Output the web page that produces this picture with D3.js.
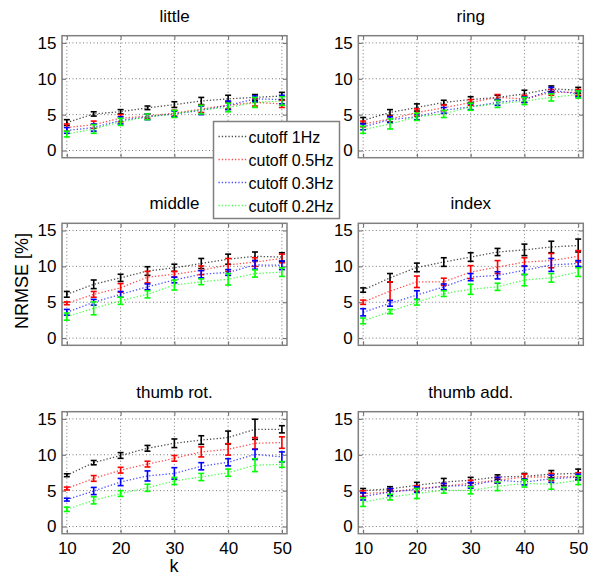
<!DOCTYPE html>
<html>
<head>
<meta charset="utf-8">
<script src="https://cdn.jsdelivr.net/npm/d3@7"></script>
<style>
  body { margin: 0; background: #fff; }
  svg { font-family: "Liberation Sans", Arial, sans-serif; }
</style>
</head>
<body>
<svg id="chart" width="595" height="576"></svg>
<script>
// data
var kValues = [10, 15, 20, 25, 30, 35, 40, 45, 50];
var cutoffLabels = ["cutoff 1Hz", "cutoff 0.5Hz", "cutoff 0.3Hz", "cutoff 0.2Hz"];
var cutoffColors = ["#000000", "#ff0000", "#0000ff", "#00ff00"];
var panelTitles = ["little", "ring", "middle", "index", "thumb rot.", "thumb add."];
var yTicks = [0, 5, 10, 15];
var xTicks = [10, 20, 30, 40, 50];

// mean NRMSE per cutoff (rows: 1Hz, 0.5Hz, 0.3Hz, 0.2Hz)
var littleMean = [
  [3.9, 5.1, 5.4, 5.95, 6.4, 6.9, 7.2, 7.4, 7.6],
  [3.2, 3.6, 4.5, 4.8, 5.2, 5.8, 6.3, 6.7, 6.5],
  [2.8, 3.2, 4.2, 4.7, 5.1, 5.6, 6.3, 7.2, 7.1],
  [2.3, 3.0, 4.0, 4.7, 5.1, 5.7, 6.0, 6.7, 6.9]
];
var littleErr = [
  [0.4, 0.3, 0.3, 0.25, 0.4, 0.5, 0.5, 0.4, 0.5],
  [0.5, 0.5, 0.5, 0.3, 0.4, 0.5, 0.5, 0.5, 0.5],
  [0.4, 0.5, 0.5, 0.4, 0.4, 0.6, 0.6, 0.4, 0.6],
  [0.4, 0.6, 0.5, 0.4, 0.5, 0.6, 0.6, 0.7, 0.6]
];
var ringMean = [
  [4.2, 5.3, 6.0, 6.7, 7.1, 7.4, 7.9, 8.6, 8.4],
  [3.7, 4.4, 5.3, 5.95, 6.7, 7.4, 7.2, 8.1, 8.1],
  [3.3, 4.3, 4.7, 5.6, 6.1, 6.7, 7.1, 8.4, 7.9],
  [2.9, 3.7, 4.7, 5.1, 6.1, 6.5, 6.9, 7.4, 7.8]
];
var ringErr = [
  [0.4, 0.4, 0.5, 0.3, 0.4, 0.3, 0.5, 0.4, 0.4],
  [0.4, 0.4, 0.5, 0.4, 0.4, 0.4, 0.5, 0.4, 0.4],
  [0.4, 0.4, 0.4, 0.4, 0.4, 0.4, 0.4, 0.4, 0.4],
  [0.5, 0.7, 0.5, 0.5, 0.5, 0.5, 0.5, 0.5, 0.5]
];
var middleMean = [
  [6.1, 7.5, 8.4, 9.35, 9.8, 10.4, 11.0, 11.4, 11.3],
  [4.85, 6.1, 7.0, 8.5, 8.9, 9.45, 10.2, 10.6, 11.1],
  [3.6, 5.0, 6.1, 7.15, 8.1, 8.9, 9.15, 10.2, 10.15],
  [3.0, 4.15, 5.2, 6.1, 7.4, 7.85, 8.2, 9.0, 9.2]
];
var middleErr = [
  [0.4, 0.6, 0.5, 0.6, 0.5, 0.7, 0.7, 0.6, 0.6],
  [0.2, 0.4, 0.6, 0.8, 0.4, 0.6, 0.9, 0.6, 0.6],
  [0.4, 0.4, 0.4, 0.4, 0.4, 0.5, 0.4, 0.6, 0.6],
  [0.5, 0.9, 0.5, 0.5, 0.7, 0.4, 0.8, 0.5, 0.6]
];
var indexMean = [
  [6.7, 8.4, 9.85, 10.6, 11.3, 12.0, 12.3, 12.7, 12.9],
  [5.0, 6.55, 7.85, 7.85, 9.2, 9.9, 10.6, 10.8, 11.4],
  [3.6, 4.85, 6.0, 7.15, 8.5, 8.75, 9.45, 10.2, 10.4],
  [2.4, 3.7, 5.0, 6.2, 6.8, 7.15, 8.1, 8.4, 9.2]
];
var indexErr = [
  [0.3, 0.6, 0.6, 0.6, 0.6, 0.5, 0.8, 0.8, 0.9],
  [0.3, 1.3, 0.8, 0.5, 0.9, 0.9, 0.6, 1.0, 0.8],
  [0.5, 0.4, 0.6, 0.4, 0.5, 0.5, 0.6, 0.9, 0.4],
  [0.4, 0.3, 0.4, 0.4, 0.7, 0.5, 0.8, 0.6, 0.6]
];
var thumbRotMean = [
  [7.15, 8.9, 9.9, 10.9, 11.6, 12.05, 12.4, 13.55, 13.55],
  [5.3, 6.7, 7.85, 8.7, 9.5, 10.4, 10.75, 11.6, 11.7],
  [3.75, 4.95, 6.2, 7.05, 7.4, 8.4, 8.95, 10.05, 9.7],
  [2.4, 3.65, 4.6, 5.4, 6.35, 6.9, 7.5, 8.55, 8.65]
];
var thumbRotErr = [
  [0.2, 0.3, 0.4, 0.4, 0.6, 0.6, 0.9, 1.4, 0.5],
  [0.2, 0.4, 0.4, 0.4, 0.4, 0.7, 0.8, 0.8, 0.8],
  [0.2, 0.5, 0.5, 0.7, 0.8, 0.5, 0.5, 0.7, 0.7],
  [0.3, 0.5, 0.4, 0.5, 0.5, 0.5, 0.5, 0.9, 0.4]
];
var thumbAddMean = [
  [5.0, 5.25, 5.75, 6.2, 6.45, 6.9, 7.0, 7.3, 7.4],
  [4.6, 4.8, 5.3, 5.6, 6.05, 6.45, 6.9, 6.9, 7.0],
  [4.2, 4.8, 5.15, 5.6, 5.75, 6.45, 6.2, 6.65, 6.9],
  [3.4, 4.1, 4.6, 5.05, 5.05, 5.6, 6.0, 5.9, 6.45]
];
var thumbAddErr = [
  [0.3, 0.3, 0.4, 0.5, 0.4, 0.3, 0.4, 0.5, 0.6],
  [0.4, 0.4, 0.4, 0.4, 0.4, 0.4, 0.4, 0.5, 0.5],
  [0.5, 0.5, 0.4, 0.4, 0.4, 0.4, 0.4, 0.5, 0.4],
  [0.6, 0.4, 0.7, 0.4, 0.5, 0.6, 0.5, 0.7, 0.6]
];

var panelMeans = [littleMean, ringMean, middleMean, indexMean, thumbRotMean, thumbAddMean];
var panelErrs = [littleErr, ringErr, middleErr, indexErr, thumbRotErr, thumbAddErr];

// layout
var panelW = 225, panelH = 122;
var colX = [62, 358.3];
var rowY = [35.7, 223.3, 411.7];

var svg = d3.select("#chart");

var x = d3.scaleLinear().domain([9.1, 50.95]).range([0, panelW]);
var y = d3.scaleLinear().domain([-1, 16]).range([panelH, 0]);

panelTitles.forEach(function(title, p) {
  var col = p % 2, row = Math.floor(p / 2);
  var g = svg.append("g")
    .attr("transform", "translate(" + colX[col] + "," + rowY[row] + ")");

  // grid
  g.selectAll(".vgrid").data(xTicks).enter().append("line")
    .attr("x1", function(d) { return x(d); }).attr("x2", function(d) { return x(d); })
    .attr("y1", 0).attr("y2", panelH)
    .attr("stroke", "#777").attr("stroke-width", 1).attr("stroke-dasharray", "1,2.5");
  g.selectAll(".hgrid").data(yTicks).enter().append("line")
    .attr("y1", function(d) { return y(d); }).attr("y2", function(d) { return y(d); })
    .attr("x1", 0).attr("x2", panelW)
    .attr("stroke", "#777").attr("stroke-width", 1).attr("stroke-dasharray", "1,2.5");

  // axes with inward ticks
  var xAxis = d3.axisBottom(x).tickValues(xTicks).tickSize(-4).tickPadding(8);
  var yAxis = d3.axisLeft(y).tickValues(yTicks).tickSize(-4).tickPadding(5.5);
  var ax = g.append("g").attr("transform", "translate(0," + panelH + ")").call(xAxis);
  var ay = g.append("g").call(yAxis);
  g.append("g").call(d3.axisTop(x).tickValues(xTicks).tickSize(-4).tickFormat(""));
  g.append("g").attr("transform", "translate(" + panelW + ",0)")
    .call(d3.axisRight(y).tickValues(yTicks).tickSize(-4).tickFormat(""));
  g.selectAll(".domain").remove();
  g.selectAll(".tick line").attr("stroke", "#666");
  [ax, ay].forEach(function(a) {
    a.selectAll("text").attr("font-size", 17).attr("fill", "#000")
      .attr("font-family", "Liberation Sans, Arial, sans-serif");
  });
  if (row < 2) ax.selectAll("text").remove();

  // series
  var means = panelMeans[p], errs = panelErrs[p];
  means.forEach(function(vals, s) {
    var pts = vals.map(function(v, i) { return { k: kValues[i], v: v, e: errs[s][i] }; });
    g.append("path").datum(pts)
      .attr("fill", "none")
      .attr("stroke", cutoffColors[s])
      .attr("stroke-opacity", 0.7)
      .attr("stroke-width", 1.3)
      .attr("stroke-dasharray", "1.3,2")
      .attr("d", d3.line().x(function(d) { return x(d.k); }).y(function(d) { return y(d.v); }));
    var eb = g.selectAll(".eb" + s).data(pts).enter().append("g").attr("stroke", cutoffColors[s]).attr("stroke-width", 1.6);
    eb.append("line")
      .attr("x1", function(d) { return x(d.k); }).attr("x2", function(d) { return x(d.k); })
      .attr("y1", function(d) { return y(d.v - d.e); }).attr("y2", function(d) { return y(d.v + d.e); });
    eb.append("line")
      .attr("x1", function(d) { return x(d.k) - 3; }).attr("x2", function(d) { return x(d.k) + 3; })
      .attr("y1", function(d) { return y(d.v - d.e); }).attr("y2", function(d) { return y(d.v - d.e); });
    eb.append("line")
      .attr("x1", function(d) { return x(d.k) - 3; }).attr("x2", function(d) { return x(d.k) + 3; })
      .attr("y1", function(d) { return y(d.v + d.e); }).attr("y2", function(d) { return y(d.v + d.e); });
  });

  // box
  g.append("rect").attr("width", panelW).attr("height", panelH)
    .attr("fill", "none").attr("stroke", "#808080").attr("stroke-width", 1.5);

  // title
  g.append("text").attr("x", panelW / 2).attr("y", -14)
    .attr("text-anchor", "middle").attr("font-size", 17).text(title);
});

// axis labels
svg.append("text").attr("x", 174).attr("y", 572).attr("text-anchor", "middle")
  .attr("font-size", 18).text("k");
svg.append("text").attr("x", 0).attr("y", 0).attr("text-anchor", "middle")
  .attr("transform", "translate(28,281) rotate(-90)")
  .attr("font-size", 18).text("NRMSE [%]");

// legend
var legend = svg.append("g").attr("transform", "translate(213.5,121.5)");
legend.append("rect").attr("width", 126).attr("height", 97)
  .attr("fill", "#fff").attr("stroke", "#808080").attr("stroke-width", 1.5);
cutoffLabels.forEach(function(label, i) {
  var ly = 15 + i * 23;
  legend.append("line").attr("x1", 5).attr("x2", 33).attr("y1", ly).attr("y2", ly)
    .attr("stroke", cutoffColors[i]).attr("stroke-opacity", 0.7)
    .attr("stroke-width", 1.3).attr("stroke-dasharray", "1.3,2");
  legend.append("text").attr("x", 35).attr("y", ly + 6)
    .attr("font-size", 16).text(label);
});
</script>
</body>
</html>
